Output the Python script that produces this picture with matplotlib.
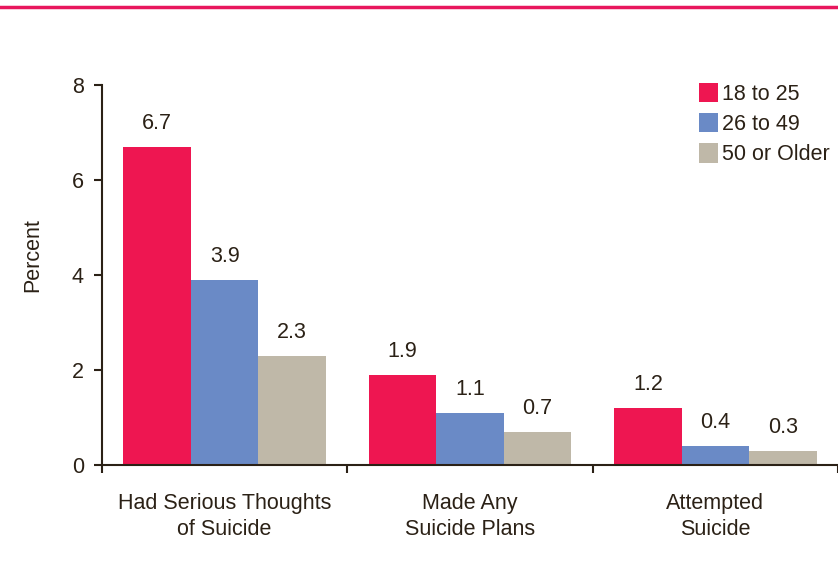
import matplotlib
matplotlib.use("Agg")
import matplotlib.pyplot as plt
import numpy as np

categories = ["Had Serious Thoughts\nof Suicide", "Made Any\nSuicide Plans", "Attempted\nSuicide"]
groups = ["18 to 25", "26 to 49", "50 or Older"]
age_18_25 = [6.7, 1.9, 1.2]
age_26_49 = [3.9, 1.1, 0.4]
age_50_up = [2.3, 0.7, 0.3]

RED = "#EE1651"
BLUE = "#6A8AC6"
GREY = "#BFB8A8"
INK = "#2B2116"
FS = 15.5

plt.rcParams["font.family"] = ["Liberation Sans", "DejaVu Sans"]

fig = plt.figure(figsize=(8.38, 5.71), dpi=100)
fig.patch.set_facecolor("white")

# pink rule across the top
fig.add_artist(plt.Line2D([0, 1], [0.988, 0.988], color="#E8175D", lw=2.5,
                          transform=fig.transFigure))

ax = fig.add_axes([0.1217, 0.1856, 0.8783, 0.6655])
x = np.arange(len(categories)) + 0.5
w = 0.275
series = [age_18_25, age_26_49, age_50_up]
colors = [RED, BLUE, GREY]
for i, (vals, c, lab) in enumerate(zip(series, colors, groups)):
    xs = x + (i - 1) * w
    ax.bar(xs, vals, width=w, color=c, label=lab, zorder=2)
    for xi, v in zip(xs, vals):
        ax.annotate(f"{v:.1f}", (xi, v), xytext=(0, 17), textcoords="offset points",
                    ha="center", va="center", fontsize=FS, color=INK)

ax.set_xlim(0, 3)
ax.set_ylim(0, 8)
ax.set_yticks([0, 2, 4, 6, 8])
ax.set_xticks([0, 1, 2, 3])
ax.set_xticklabels([])
ax.set_xticks(x, minor=True)
ax.set_xticklabels(categories, minor=True, fontsize=FS, color=INK, linespacing=1.3)
ax.tick_params(axis="x", which="minor", length=0, pad=20)
ax.tick_params(axis="x", which="major", length=6, width=1.5, color=INK, direction="out")
ax.tick_params(axis="y", length=6, width=1.5, color=INK, labelsize=FS, labelcolor=INK, pad=7)
for s in ["top", "right"]:
    ax.spines[s].set_visible(False)
for s in ["left", "bottom"]:
    ax.spines[s].set_color(INK)
    ax.spines[s].set_linewidth(1.5)
ax.set_ylabel("Percent", fontsize=FS, color=INK)
ax.yaxis.set_label_coords(-0.08, 0.553)

leg = ax.legend(loc="upper right", bbox_to_anchor=(1.0, 1.028), frameon=False,
                fontsize=FS, handlelength=0.9, handleheight=1.0, handletextpad=0.15,
                labelspacing=0.38, borderaxespad=0)
for t in leg.get_texts():
    t.set_color(INK)

fig.savefig("out.png", dpi=100, facecolor="white")
